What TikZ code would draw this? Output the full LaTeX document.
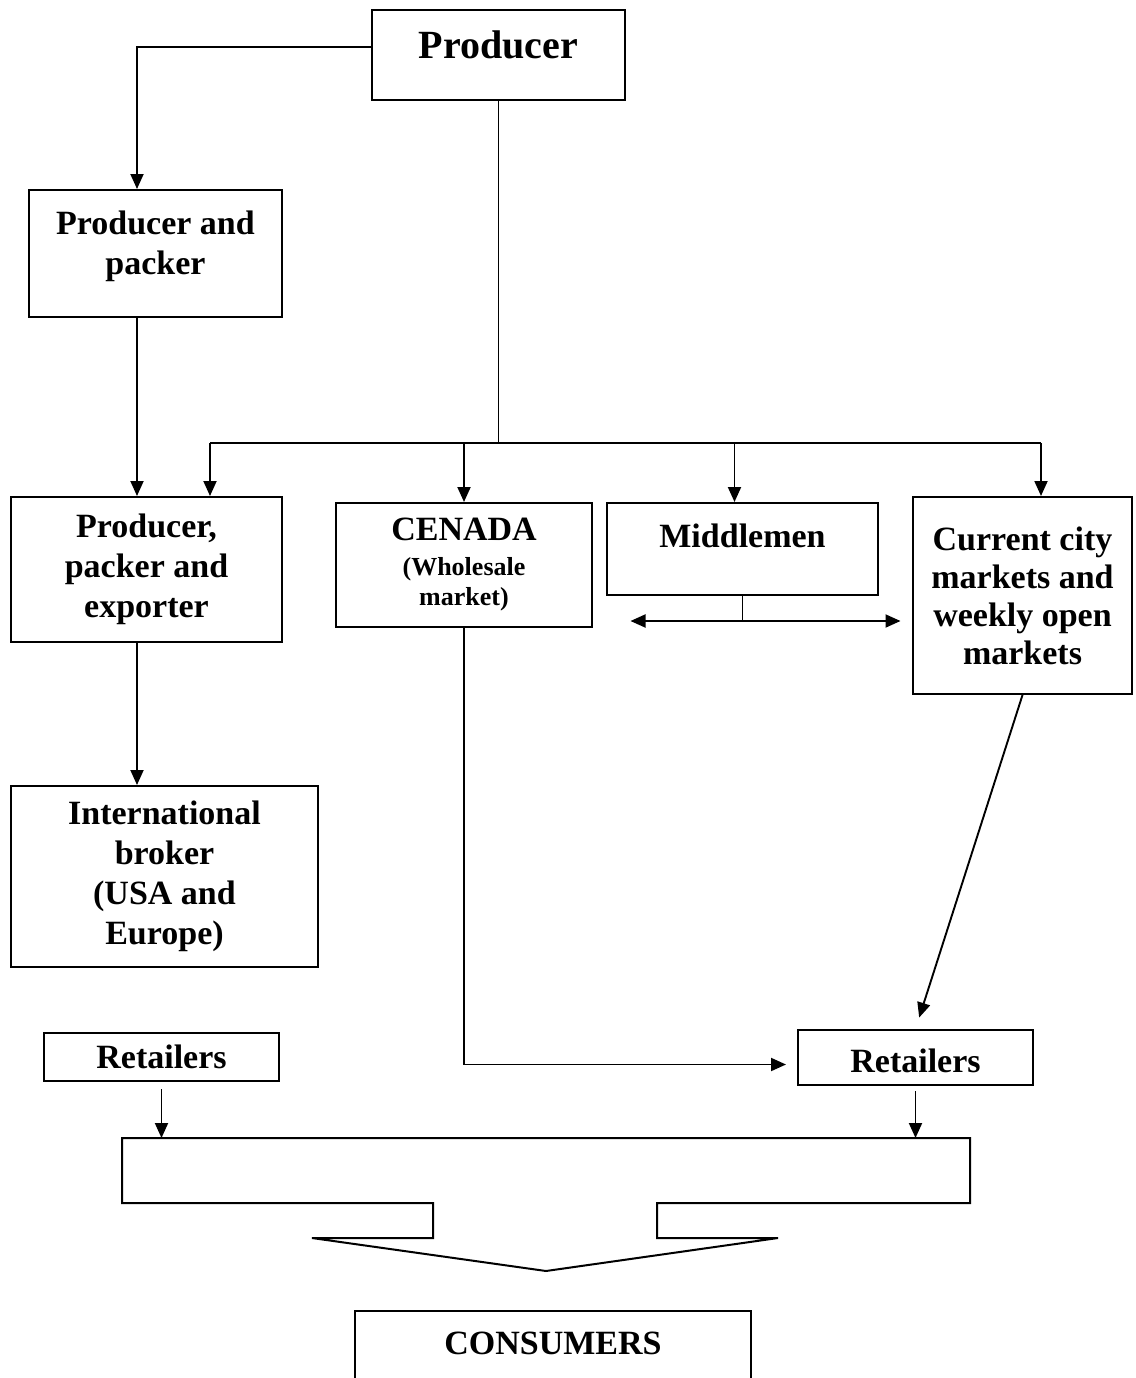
\documentclass[tikz,border=0pt]{standalone}
\usepackage{fontspec}
\setmainfont{Liberation Serif}
\usetikzlibrary{arrows.meta,positioning,calc}
\tikzset{
     box/.style   = {draw, line width=2pt, align=center, inner sep=0pt,
                     font=\bfseries\fontsize{34}{40}\selectfont},
     flow/.style  = {line width=1.9pt, -{Triangle[length=15pt,width=13pt]}},
     plain/.style = {line width=1.9pt},
    }
\newcommand\smalltxt{\fontsize{26}{31}\selectfont}

\begin{document}
\begin{tikzpicture}[x=1pt,y=-1pt]
            \clip (0,0) rectangle (1135,1378);
            \node [box, minimum width=253pt, minimum height=90pt, text depth=20pt,
                   font=\bfseries\fontsize{40}{46}\selectfont] (producer) at (498.5,55) {Producer};
            \node [box, minimum width=253pt, minimum height=127pt, text depth=22pt] (packer) at (155.5,253.5) {Producer and\\packer};
            \node [box, minimum width=271pt, minimum height=145pt] (exporter) at (146.5,569.5) {Producer,\\packer and\\exporter};
            \node [box, minimum width=256pt, minimum height=124pt] (cenada) at (464,565) {CENADA\\[-5pt]\smalltxt(Wholesale\\[-10pt]\smalltxt market)};
            \node [box, minimum width=271pt, minimum height=92pt, text depth=26pt] (middlemen) at (742.5,549) {Middlemen};
            \node [box, minimum width=219pt, minimum height=197pt] (citymkt) at (1022.5,595.5) {Current city\\[-2pt]markets and\\[-2pt]weekly open\\[-2pt]markets};
            \node [box, minimum width=307pt, minimum height=181pt] (broker) at (164.5,876.5) {International\\broker\\(USA and\\Europe)};
            \node [box, minimum width=235pt, minimum height=48pt] (retailL) at (161.5,1057) {Retailers};
            \node [box, minimum width=235pt, minimum height=55pt, text height=30pt] (retailR) at (915.5,1057.5) {Retailers};
            \node [box, minimum width=396pt, minimum height=100pt, text depth=36pt] (consumers) at (553,1361) {CONSUMERS};

            \coordinate (lane)   at (137,0);
            \coordinate (busL)   at (210,443);
            \coordinate (busR)   at (1041,443);
            \coordinate (funnel) at (546,1138);

            \draw [flow] ([yshift=8pt]producer.west) -| (lane |- packer.north);
            \draw [flow] (lane |- packer.south) -- (lane |- exporter.north);
            \draw [flow] (lane |- exporter.south) -- (lane |- broker.north);

            \draw [plain] (producer.south) -- (producer.south |- busL);
            \draw [plain] (busL) -- (busR);
            \draw [flow] (busL) -- (busL |- exporter.north);
            \draw [flow] (cenada.north |- busL) -- (cenada.north);
            \draw [flow] ([xshift=-8pt]middlemen.north |- busL) -- ([xshift=-8pt]middlemen.north);
            \draw [flow] (busR) -- (busR |- citymkt.north);

            \draw [plain] (middlemen.south) -- ++(0,25) coordinate (mm);
            \draw [flow] (mm) -- ++(-112,0);
            \draw [flow] (mm) -- ++(158,0);

            \draw [flow, shorten >=11pt] (cenada.south) |- ([yshift=-7pt]retailR.west);
            \draw [flow, shorten >=12pt] (citymkt.south) -- (retailR.north);
            \draw [flow] ([yshift=-7pt]retailL.south) -- (retailL.south |- funnel);
            \draw [flow] ([yshift=-5pt]retailR.south) -- (retailR.south |- funnel);

            \draw [line width=2pt] (122,1138) -- (970,1138) -- (970,1203) -- (657,1203)
                  -- (657,1238) -- (778,1238) -- (funnel |- 0,1271) -- (312,1238)
                  -- (433,1238) -- (433,1203) -- (122,1203) -- cycle;
      \end{tikzpicture}
\end{document}
